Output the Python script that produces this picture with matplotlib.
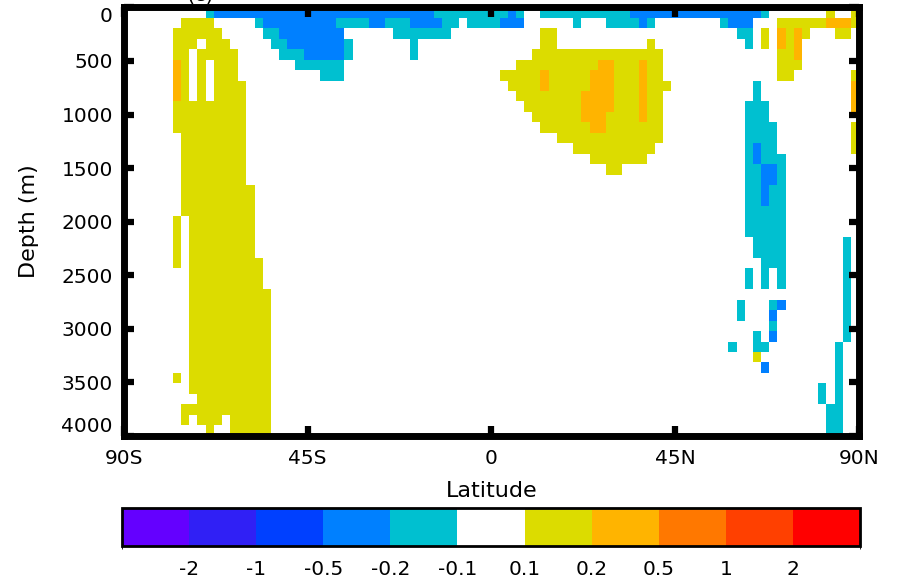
import numpy as np
import matplotlib
matplotlib.use('Agg')
import matplotlib.pyplot as plt
import matplotlib.cm as cm
from matplotlib.colors import ListedColormap, BoundaryNorm

plt.rcParams['font.family'] = ['DejaVu Sans']

# colour classes of the section (edges) and their colours
LEVELS = [-3, -2, -1, -0.5, -0.2, -0.1, 0.1, 0.2, 0.5, 1, 2, 3]
LEVEL_LABELS = ['-2', '-1', '-0.5', '-0.2', '-0.1', '0.1', '0.2', '0.5', '1', '2']
COLORS = ['#6400ff', '#3020f5', '#0040ff', '#0080ff', '#00c0d0', '#ffffff',
          '#dcdc00', '#ffb400', '#ff7800', '#ff4000', '#ff0000']

# one letter per cell (2 deg latitude x ~100 m)
CODE_VALUES = {'.': 0.0, 'c': -0.15, 'b': -0.35, 'y': 0.15, 'o': 0.35}

LAT_TICKS = [-90, -45, 0, 45, 90]
LAT_LABELS = ['90S', '45S', '0', '45N', '90N']
DEPTH_TICKS = [0, 500, 1000, 1500, 2000, 2500, 3000, 3500, 4000]

# rows go from the surface down, columns from 90S to 90N (groups of 10 = 20 deg)
SECTION = [
    ".......... cbbbbbbbbb bbbbbbbbbb bbbbbbbbcc cccccccbc. .ccccccccc ccbbbbbbbb bbbbbbbbc. ......y..y",
    ".......yyy y.....cbbb bbbbbbcccc bbcccbbbbc c.ccccbbb. .....c...c cccbc..... ...cbbb... yyyyyyoooy",
    "......yyyy yy.....ccb bbbbbbb... ...ccccccc .......... .yy....... .......... .....cc.y. oyoy...yy.",
    "......yyy. yyy.....cc bbbbbbbc.. .....c.... .......... .yy....... ....y..... ......c.y. oyo.......",
    "......yy.y yyyy.....c ccbbbbbc.. .....c.... .......... yyyyyyyyyy yyyyyy.... .......... yyo.......",
    "......oy.y .yyy...... .cccccc... .......... ........yy yyyyyyyyoo yyyoyy.... .......... yyy.......",
    "......oy.y .yyy...... ....ccc... .......... ......yyyy yoyyyyyooo yyyoyy.... .......... yy.......y",
    "......oy.y .yyyy..... .......... .......... .......yyy yoyyyyyooo yyyoyyy... .......c.. .........o",
    "......oy.y .yyyy..... .......... .......... ........yy yyyyyyoooo yyyoyy.... .......c.. .........o",
    "......yyyy yyyyy..... .......... .......... .........y yyyyyyoooo yyyoyy.... ......ccc. .........o",
    "......yyyy yyyyy..... .......... .......... .......... yyyyyyoooy yyyoyy.... ......ccc. ..........",
    "......yyyy yyyyy..... .......... .......... .......... .yyyyyyooy yyyyyy.... ......cccc .........y",
    ".......yyy yyyyy..... .......... .......... .......... ...yyyyyyy yyyyyy.... ......cccc .........y",
    ".......yyy yyyyy..... .......... .......... .......... .....yyyyy yyyyy..... ......cbcc .........y",
    ".......yyy yyyyy..... .......... .......... .......... .......yyy yyyy...... ......cbcc c.........",
    ".......yyy yyyyy..... .......... .......... .......... .........y y......... ......ccbb c.........",
    ".......yyy yyyyy..... .......... .......... .......... .......... .......... ......ccbb c.........",
    ".......yyy yyyyyy.... .......... .......... .......... .......... .......... ......ccbc c.........",
    ".......yyy yyyyyy.... .......... .......... .......... .......... .......... ......ccbc c.........",
    ".......yyy yyyyyy.... .......... .......... .......... .......... .......... ......cccc c.........",
    "......y.yy yyyyyy.... .......... .......... .......... .......... .......... ......cccc c.........",
    "......y.yy yyyyyy.... .......... .......... .......... .......... .......... ......cccc c.........",
    "......y.yy yyyyyy.... .......... .......... .......... .......... .......... .......ccc c.......c.",
    "......y.yy yyyyyy.... .......... .......... .......... .......... .......... .......ccc c.......c.",
    "......y.yy yyyyyyy... .......... .......... .......... .......... .......... ........cc c.......c.",
    "........yy yyyyyyy... .......... .......... .......... .......... .......... ......c.c. c.......c.",
    "........yy yyyyyyy... .......... .......... .......... .......... .......... ......c.c. c.......c.",
    "........yy yyyyyyyy.. .......... .......... .......... .......... .......... .......... ........c.",
    "........yy yyyyyyyy.. .......... .......... .......... .......... .......... .....c...c b.......c.",
    "........yy yyyyyyyy.. .......... .......... .......... .......... .......... .....c...b ........c.",
    "........yy yyyyyyyy.. .......... .......... .......... .......... .......... .........c ........c.",
    "........yy yyyyyyyy.. .......... .......... .......... .......... .......... .......c.b ........c.",
    "........yy yyyyyyyy.. .......... .......... .......... .......... .......... ....c..cc. .......c..",
    "........yy yyyyyyyy.. .......... .......... .......... .......... .......... .......y.. .......c..",
    "........yy yyyyyyyy.. .......... .......... .......... .......... .......... ........b. .......c..",
    "......y.yy yyyyyyyy.. .......... .......... .......... .......... .......... .......... .......c..",
    "........yy yyyyyyyy.. .......... .......... .......... .......... .......... .......... .....c.c..",
    ".........y yyyyyyyy.. .......... .......... .......... .......... .......... .......... .....c.c..",
    ".......yyy yyyyyyyy.. .......... .......... .......... .......... .......... .......... ......cc..",
    ".......y.y yy.yyyyy.. .......... .......... .......... .......... .......... .......... ......cc..",
    ".......... y..yyyyy.. .......... .......... .......... .......... .......... .......... ......cc..",
]

grid = np.array([[CODE_VALUES[ch] for ch in row.replace(' ', '')] for row in SECTION])
lat_edges = np.linspace(-90, 90, grid.shape[1] + 1)
depth_edges = np.linspace(0, 4000, grid.shape[0] + 1)

cmap = ListedColormap(COLORS)
norm = BoundaryNorm(LEVELS, cmap.N)

fig = plt.figure(figsize=(9.01, 5.81), dpi=100)
ax = fig.add_axes([0.1376, 0.2504, 0.8158, 0.7367])
ax.pcolormesh(lat_edges, depth_edges, grid, cmap=cmap, norm=norm,
              shading='flat', antialiased=False, edgecolors='none')
ax.set_xlim(-90, 90)
ax.set_ylim(4000, 0)

ax.set_xticks(LAT_TICKS, labels=LAT_LABELS)
ax.set_yticks(DEPTH_TICKS, labels=[str(d) for d in DEPTH_TICKS])
ax.tick_params(axis='both', direction='in', top=True, right=True,
               length=7, width=4.5, labelsize=14.5)
ax.tick_params(axis='x', pad=10)
ax.tick_params(axis='y', pad=8)
ylabels = ax.get_yticklabels()
ylabels[0].set_va('top')
ylabels[-1].set_va('bottom')
for sp in ax.spines.values():
    sp.set_linewidth(5)
ax.set_xlabel('Latitude', fontsize=16, labelpad=9)
ax.set_ylabel('Depth (m)', fontsize=16, labelpad=16)

# panel label, mostly cut off at the top edge as in the original
fig.text(200 / 901, 1 - 1 / 581, '(c)', ha='center', va='baseline', fontsize=15)

# colour bar
cax = fig.add_axes([122 / 901, 1 - 546 / 581, 738 / 901, 38 / 581])
cb = fig.colorbar(cm.ScalarMappable(norm=norm, cmap=cmap), cax=cax,
                  orientation='horizontal', spacing='uniform', ticks=LEVELS[1:-1])
cb.set_ticklabels(LEVEL_LABELS)
cb.ax.tick_params(length=0, pad=10, labelsize=14.5)
cb.outline.set_linewidth(2)

fig.savefig('out.png', dpi=100)
